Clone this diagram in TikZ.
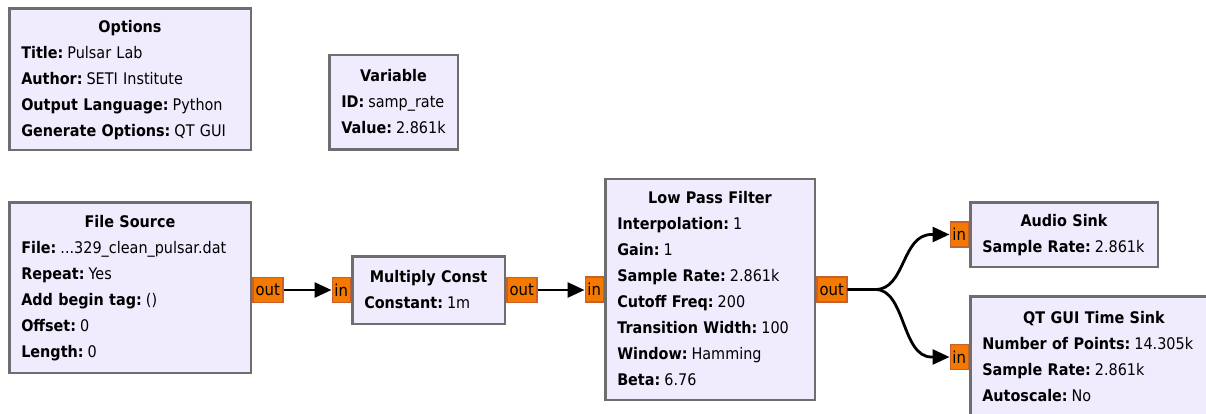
\documentclass[tikz,border=0pt]{standalone}
\usepackage{fontspec}
\setmainfont{DejaVu Sans}[FakeStretch=0.9]
\usetikzlibrary{arrows.meta,calc,positioning}
\definecolor{GrcBlock}{HTML}{F0ECFE}
\definecolor{GrcEdge}{HTML}{6E6E6E}
\definecolor{GrcPort}{HTML}{F37900}
\definecolor{GrcPortEdge}{HTML}{C8602E}
\newcommand{\blktitle}[1]{\makebox[\linewidth]{\bfseries #1}\strut}
\newcommand{\blkparam}[2]{\mbox{\textbf{#1:}\hspace{4pt}#2}\strut}
\tikzset{
  block/.style={draw=GrcEdge,fill=GrcBlock,line width=2.5pt,anchor=north west,
    align=left,text width=#1,inner xsep=12pt,inner ysep=0pt,
    font=\fontsize{16}{26}\selectfont},
  outport/.style={draw=GrcPortEdge,fill=GrcPort,line width=1.5pt,inner sep=0pt,
    minimum width=30pt,minimum height=25pt,font=\fontsize{16.5}{16.5}\selectfont},
  inport/.style={outport,minimum width=18pt},
  wire/.style={line width=2.8pt,-{Triangle[length=17pt,width=15pt]}}
}

\begin{document}
\begin{tikzpicture}[x=1pt,y=-1pt]
  \useasboundingbox (0,0) rectangle (1206,414);
  \fill[white] (0,0) rectangle (1206,414);
  \clip (0,0) rectangle (1206,414);

  % blocks
  \node[block=217.5pt,minimum height=141.5pt] (options) at (8,7.5)
    {\blktitle{Options}\\ \blkparam{Title}{Pulsar Lab}\\ \blkparam{Author}{SETI Institute}\\
     \blkparam{Output Language}{Python}\\ \blkparam{Generate Options}{QT GUI}};
  \node[block=104.5pt,minimum height=94.5pt] (samprate) at (328,54)
    {\blktitle{Variable}\\ \blkparam{ID}{samp\_rate}\\ \blkparam{Value}{2.861k}};
  \node[block=217.5pt,minimum height=170.5pt] (filesrc) at (8,201)
    {\blktitle{File Source}\\ \blkparam{File}{...329\_clean\_pulsar.dat}\\ \blkparam{Repeat}{Yes}\\
     \blkparam{Add begin tag}{()}\\ \blkparam{Offset}{0}\\ \blkparam{Length}{0}};
  \node[block=128.5pt,minimum height=67.5pt] (mulconst) at (351,255)
    {\blktitle{Multiply Const}\\ \blkparam{Constant}{1m}};
  \node[block=185.5pt,minimum height=220.5pt] (lowpass) at (604,178)
    {\blktitle{Low Pass Filter}\\ \blkparam{Interpolation}{1}\\ \blkparam{Gain}{1}\\
     \blkparam{Sample Rate}{2.861k}\\ \blkparam{Cutoff Freq}{200}\\ \blkparam{Transition Width}{100}\\
     \blkparam{Window}{Hamming}\\ \blkparam{Beta}{6.76}};
  \node[block=163.5pt,minimum height=64.5pt] (audiosink) at (969,201)
    {\blktitle{Audio Sink}\\ \blkparam{Sample Rate}{2.861k}};
  \node[block=223.5pt,minimum height=121.5pt] (timesink) at (969,295)
    {\blktitle{QT GUI Time Sink}\\ \blkparam{Number of Points}{14.305k}\\
     \blkparam{Sample Rate}{2.861k}\\ \blkparam{Autoscale}{No}};

  % ports
  \node[outport,anchor=west] (fs_out) at (filesrc.east |- mulconst.west) {out};
  \node[inport,left=0pt of mulconst] (mc_in) {in};
  \node[outport,right=0pt of mulconst] (mc_out) {out};
  \node[inport,left=0pt of lowpass] (lp_in) {in};
  \node[outport,right=0pt of lowpass] (lp_out) {out};
  \node[inport,left=0pt of audiosink] (as_in) {in};
  \node[inport,left=0pt of timesink] (ts_in) {in};

  % connections
  \draw[wire] (fs_out.east) -- (mc_in.west);
  \draw[wire] (mc_out.east) -- (lp_in.west |- mc_out.east);
  \draw[wire] (lp_out.east) -- ++(28,0) .. controls +(30,0) and +(-30,0) .. ([xshift=-18pt]as_in.west) -- (as_in.west);
  \draw[wire] (lp_out.east) -- ++(28,0) .. controls +(30,0) and +(-30,0) .. ([xshift=-18pt]ts_in.west) -- (ts_in.west);
\end{tikzpicture}
\end{document}
